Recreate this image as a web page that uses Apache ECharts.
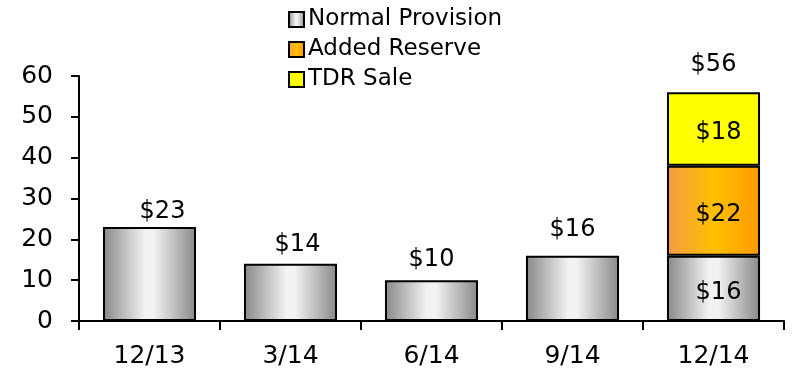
<!DOCTYPE html>
<html>
<head>
<meta charset="utf-8">
<script src="https://cdn.jsdelivr.net/npm/echarts@6/dist/echarts.min.js"></script>
<style>
  html, body { margin: 0; padding: 0; background: #fff; }
  #chart { width: 792px; height: 375px; }
</style>
</head>
<body>
<div id="chart"></div>
<script>
// Quarterly provision for loan losses, $ millions
const categories = ['12/13', '3/14', '6/14', '9/14', '12/14'];
const normalProvision = [23, 14, 10, 16, 16];
const addedReserve = [0, 0, 0, 0, 22];
const tdrSale = [0, 0, 0, 0, 18];
const yTicks = [0, 10, 20, 30, 40, 50, 60];

// hand-placed nudges for the value labels above the single bars
const topLabelNudge = [[13, 0], [7, -4], [0, -5], [0, -11], [0, 0]];

const FONT = 'DejaVu Sans';
const last = categories.length - 1;
const totals = categories.map((_, i) => normalProvision[i] + addedReserve[i] + tdrSale[i]);

const greyFill = {
  type: 'linear', x: 0, y: 0, x2: 1, y2: 0,
  colorStops: [
    { offset: 0, color: '#888888' },
    { offset: 0.45, color: '#f2f2f2' },
    { offset: 0.55, color: '#f2f2f2' },
    { offset: 1, color: '#888888' }
  ]
};
const orangeFill = {
  type: 'linear', x: 0, y: 0, x2: 1, y2: 0,
  colorStops: [
    { offset: 0, color: '#f39a45' },
    { offset: 0.5, color: '#ffc000' },
    { offset: 1, color: '#ff9900' }
  ]
};
const border = { borderColor: '#000', borderWidth: 2 };

const labelText = { fontFamily: FONT, fontSize: 24, color: '#000' };
const insideOffset = [5, 4];

const chart = echarts.init(document.getElementById('chart'), null, { renderer: 'canvas' });
chart.setOption({
  animation: false,
  grid: { left: 79, right: 8, top: 76, bottom: 54 },
  legend: {
    orient: 'vertical',
    left: 283,
    top: 3,
    itemGap: 7,
    itemWidth: 15,
    itemHeight: 15,
    icon: 'rect',
    itemStyle: { borderColor: '#000', borderWidth: 2 },
    textStyle: { fontFamily: FONT, fontSize: 23, color: '#000', padding: [0, 0, 0, -1] },
    data: ['Normal Provision', 'Added Reserve', 'TDR Sale']
  },
  xAxis: {
    type: 'category',
    data: categories,
    axisLine: { lineStyle: { color: '#000', width: 2 } },
    axisTick: { show: true, length: 9, lineStyle: { color: '#000', width: 2 } },
    axisLabel: { margin: 23, fontFamily: FONT, fontSize: 25, color: '#000' }
  },
  yAxis: {
    type: 'value',
    min: yTicks[0],
    max: yTicks[yTicks.length - 1],
    interval: yTicks[1] - yTicks[0],
    splitLine: { show: false },
    axisLine: { show: true, lineStyle: { color: '#000', width: 2 } },
    axisTick: { show: true, length: 8, lineStyle: { color: '#000', width: 2 } },
    axisLabel: { margin: 26, fontFamily: FONT, fontSize: 25, color: '#000' }
  },
  series: [
    {
      name: 'Normal Provision',
      type: 'bar',
      stack: 'total',
      barWidth: '66%',
      itemStyle: Object.assign({ color: greyFill }, border),
      label: Object.assign({ show: true, position: 'top', distance: 3, formatter: p => '$' + p.value }, labelText),
      data: normalProvision.map((v, i) => i === last
        ? { value: v, label: { position: 'inside', offset: insideOffset } }
        : { value: v, label: { offset: topLabelNudge[i] } })
    },
    {
      name: 'Added Reserve',
      type: 'bar',
      stack: 'total',
      itemStyle: Object.assign({ color: orangeFill }, border),
      label: Object.assign({ show: true, position: 'inside', offset: insideOffset,
        formatter: p => p.value ? '$' + p.value : '' }, labelText),
      data: addedReserve.map(v => v || null)
    },
    {
      name: 'TDR Sale',
      type: 'bar',
      stack: 'total',
      itemStyle: Object.assign({ color: '#ffff00' }, border),
      label: Object.assign({ show: true, position: 'inside', offset: insideOffset,
        formatter: p => p.value ? '$' + p.value : '' }, labelText),
      data: tdrSale.map(v => v || null)
    },
    {
      // stack total shown above the tallest column
      name: 'Total',
      type: 'bar',
      stack: 'total',
      silent: true,
      itemStyle: { color: 'transparent', borderWidth: 0 },
      label: Object.assign({ show: true, position: 'top', distance: 16,
        formatter: p => '$' + totals[p.dataIndex] }, labelText),
      data: totals.map((t, i) => i === last ? 0 : null)
    }
  ]
});
</script>
</body>
</html>
